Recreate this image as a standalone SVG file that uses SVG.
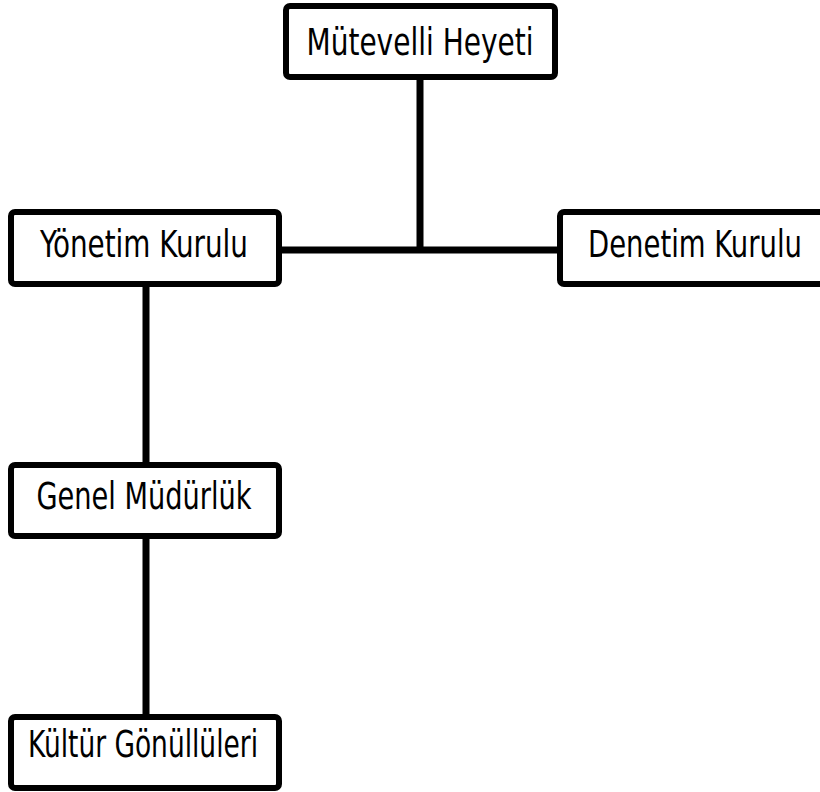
<svg xmlns="http://www.w3.org/2000/svg" width="820" height="792" viewBox="0 0 820 792">
<style>
.box{fill:#fff;stroke:#000;stroke-width:6}
.lbl{font-family:"DejaVu Sans Condensed","DejaVu Sans",sans-serif;font-size:37px;fill:#000;text-anchor:middle}
.conn{stroke:#000;stroke-width:7;fill:none}
</style>
<rect width="820" height="792" fill="#fff"/>
<g id="connectors">
<line class="conn" x1="420" y1="80" x2="420" y2="250"/>
<line class="conn" x1="282" y1="250" x2="558" y2="250"/>
<line class="conn" x1="146" y1="287" x2="146" y2="462"/>
<line class="conn" x1="146" y1="539" x2="146" y2="714"/>
</g>
<g id="mutevelli">
<rect class="box" x="286" y="6" width="269" height="71" rx="4"/>
<text class="lbl" x="420" y="55" textLength="227" lengthAdjust="spacingAndGlyphs">Mütevelli Heyeti</text>
</g>
<g id="yonetim">
<rect class="box" x="11" y="212" width="268" height="72" rx="4"/>
<text class="lbl" x="144" y="257" textLength="208" lengthAdjust="spacingAndGlyphs">Yönetim Kurulu</text>
</g>
<g id="denetim">
<rect class="box" x="560" y="212" width="268" height="72" rx="4"/>
<text class="lbl" x="695" y="257" textLength="214" lengthAdjust="spacingAndGlyphs">Denetim Kurulu</text>
</g>
<g id="genel">
<rect class="box" x="11" y="465" width="268" height="71" rx="4"/>
<text class="lbl" x="144" y="509" textLength="215" lengthAdjust="spacingAndGlyphs">Genel Müdürlük</text>
</g>
<g id="kultur">
<rect class="box" x="11" y="717" width="268" height="71" rx="4"/>
<text class="lbl" x="143" y="757" textLength="230" lengthAdjust="spacingAndGlyphs">Kültür Gönüllüleri</text>
</g>
</svg>
